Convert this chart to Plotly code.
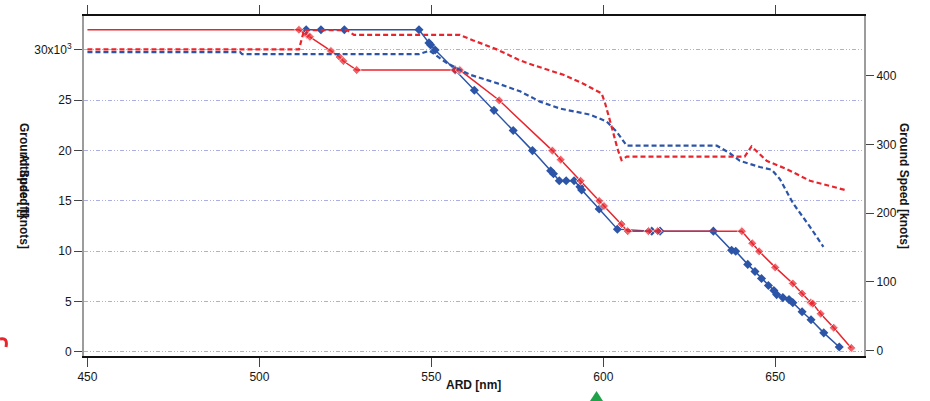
import plotly.graph_objects as go

# Altitude profiles (ARD in nm, altitude in ft)
red_alt_x = [450, 511.5, 513.8, 514.7, 520.8, 523.3, 524.4, 528.3, 556.9, 558.3, 569.7,
             585.2, 587.6, 593.4, 598.8, 600.2, 605.3, 607.1, 613.1, 615.8, 640.3,
             643.3, 645.3, 650.0, 655.1, 657.8, 660.3, 660.9, 663.2, 667.0, 672.1]
red_alt_y = [32000, 32000, 31500, 31300, 29900, 29300, 28900, 28000, 28000, 28000, 25000,
             20000, 19100, 17000, 15000, 14500, 12700, 12000, 12000, 12000, 12000,
             10800, 10000, 8400, 6800, 5800, 4900, 4800, 3800, 2400, 400]

blue_alt_x = [513.6, 517.9, 524.7, 546.4, 549.3, 549.8, 551.1, 556.9, 562.5, 568.2,
              573.8, 579.4, 584.7, 585.5, 587.2, 589.2, 591.5, 593.2, 593.7, 598.8,
              604.1, 614.1, 616.5, 632.0, 637.3, 638.5, 642.0, 644.1, 646.0, 648.0,
              649.6, 650.4, 652.2, 654.0, 655.1, 657.8, 660.4, 664.1, 668.6]
blue_alt_y = [32000, 32000, 32000, 32000, 30700, 30500, 30000, 28000, 26000, 24000,
              22000, 20000, 18000, 17700, 17000, 17000, 17000, 16400, 16100, 14200,
              12200, 12000, 12000, 12000, 10100, 10000, 8700, 8000, 7300, 6600,
              6100, 5700, 5400, 5200, 4900, 4000, 3200, 1900, 500]

# Ground speed profiles (knots)
red_gs_x = [450, 511.5, 513.0, 525.5, 527.5, 558.3, 562.2, 569.0, 575.8, 579.7, 588.4,
            594.2, 599.5, 600.5, 602.4, 604.1, 605.3, 606.8, 641.1, 643.1, 647.5,
            653.3, 660.1, 664.9, 670.8]
red_gs_y = [438, 438, 466, 466, 459, 459, 451, 438, 422, 415, 401,
            388, 374, 360, 326, 294, 277, 282, 282, 297, 276,
            264, 247, 241, 233]

blue_gs_x = [450, 494.4, 495.0, 546.4, 549.5, 554.5, 561.3, 569.0, 575.8, 581.6, 587.4,
             592.3, 596.2, 601.0, 603.9, 606.8, 633.0, 636.8, 639.7, 645.5, 649.0,
             651.4, 655.2, 660.1, 664.0]
blue_gs_y = [434, 434, 431, 431, 436, 418, 401, 389, 377, 362, 352,
             347, 343, 333, 318, 298, 298, 287, 276, 267, 263,
             249, 214, 180, 151]

x_ticks = [450, 500, 550, 600, 650]
alt_ticks = [0, 5000, 10000, 15000, 20000, 25000, 30000]
alt_tick_text = ["0", "5", "10", "15", "20", "25", "30x10<sup>3</sup>"]
gs_ticks = [0, 100, 200, 300, 400]

RED = "#e8252d"
BLUE = "#2c55a8"
FONT = "Liberation Sans, Arial, sans-serif"
TXT = "#161616"

fig = go.Figure()

fig.add_trace(go.Scatter(x=blue_gs_x, y=blue_gs_y, yaxis="y2", mode="lines",
                         line=dict(color=BLUE, width=2.2, dash="5px,3px"),
                         showlegend=False))
fig.add_trace(go.Scatter(x=red_gs_x, y=red_gs_y, yaxis="y2", mode="lines",
                         line=dict(color=RED, width=2.2, dash="5px,3px"),
                         showlegend=False))
fig.add_trace(go.Scatter(x=blue_alt_x, y=blue_alt_y, mode="lines+markers",
                         line=dict(color=BLUE, width=1.5),
                         marker=dict(symbol="diamond", size=7, color=BLUE),
                         showlegend=False))
red_sizes = [0] + [7] * (len(red_alt_x) - 1)
fig.add_trace(go.Scatter(x=red_alt_x, y=red_alt_y, mode="lines+markers",
                         line=dict(color=RED, width=1.5),
                         marker=dict(symbol="diamond", size=red_sizes, color=RED),
                         showlegend=False))

W, H = 930, 401
L, R, T, B = 84, 66, 16, 45
pw, ph = W - L - R, H - T - B


def px(xp):
    return (xp - L) / pw


def py(yp):
    return (H - B - yp) / ph


def pt(a, b):
    return f"{px(a):.4f},{py(b):.4f}"


tri = [(590, 401), (603, 401), (596.5, 391)]
tri_path = "M " + " L ".join(pt(a, b) for a, b in tri) + " Z"
arc_path = f"M {pt(0, 339)} Q {pt(8, 337)} {pt(6, 347)}"

title_font = dict(family=FONT, size=12, color=TXT, weight="bold")

fig.update_layout(
    width=W, height=H,
    margin=dict(l=L, r=R, t=T, b=B, autoexpand=False),
    paper_bgcolor="white", plot_bgcolor="white",
    font=dict(family=FONT, size=12, color=TXT),
    xaxis=dict(range=[449, 675.8], tickvals=x_ticks, ticks="outside", ticklen=9,
               tickcolor="#444", tickwidth=1, showline=True, linecolor="#111",
               linewidth=2, mirror="allticks", showgrid=False, zeroline=False,
               automargin=False, tickfont=dict(size=12, color=TXT)),
    yaxis=dict(range=[-400, 33370], tickvals=alt_ticks, ticktext=alt_tick_text,
               ticks="outside", ticklen=8, tickcolor="#444", showline=True,
               linecolor="#9c9c9c", linewidth=2, showgrid=True,
               gridcolor="rgba(90,95,200,0.5)", griddash="4px,2px,1px,2px,1px,2px",
               gridwidth=1, zeroline=False, automargin=False,
               tickfont=dict(size=12, color=TXT)),
    yaxis2=dict(range=[-7.7, 486.5], tickvals=gs_ticks, overlaying="y", side="right",
                ticks="outside", ticklen=8, tickcolor="#444", showline=True,
                linecolor="#9c9c9c", linewidth=2, showgrid=False, zeroline=False,
                automargin=False, tickfont=dict(size=12, color=TXT)),
    annotations=[
        dict(text="ARD [nm]", x=px(473), y=py(394), xref="paper", yref="paper",
             showarrow=False, font=title_font),
        dict(text="Ground Speed [knots]", x=px(15), y=py(186), xref="paper", yref="paper",
             textangle=90, showarrow=False, font=title_font),
        dict(text="Altitude [ft]", x=px(15), y=py(186), xref="paper", yref="paper",
             textangle=90, showarrow=False, font=title_font),
        dict(text="Ground Speed [knots]", x=px(913), y=py(186), xref="paper", yref="paper",
             textangle=90, showarrow=False, font=title_font),
    ],
    shapes=[
        dict(type="path", xref="paper", yref="paper", path=arc_path,
             line=dict(color=RED, width=3)),
        dict(type="path", xref="paper", yref="paper", path=tri_path,
             fillcolor="#1fa24a", line=dict(width=0)),
    ],
)

fig.write_html("out.html")
